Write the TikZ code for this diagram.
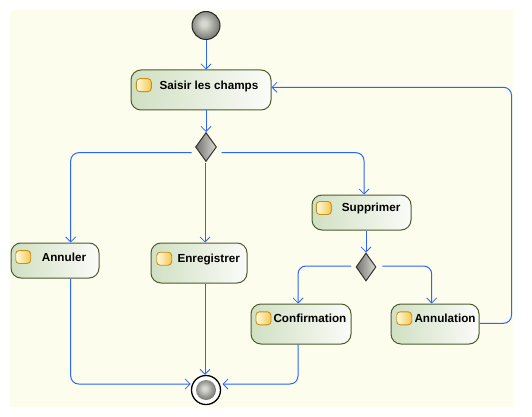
\documentclass[tikz,border=0pt]{standalone}
\usepackage{fontspec}
\setmainfont{Liberation Sans}
\usetikzlibrary{arrows.meta,shapes.geometric,calc}
\definecolor{bgcream}{RGB}{253,253,238}
\definecolor{flowblue}{RGB}{45,100,255}
\definecolor{boxline}{RGB}{75,92,45}
\definecolor{boxleft}{RGB}{208,224,194}
\definecolor{boxright}{RGB}{251,251,249}
\definecolor{iconline}{RGB}{200,145,20}
\definecolor{iconleft}{RGB}{255,250,225}
\definecolor{iconright}{RGB}{245,200,80}
\definecolor{dialeft}{RGB}{115,115,110}
\definecolor{diaright}{RGB}{220,220,214}
\definecolor{ballin}{RGB}{215,215,210}
\definecolor{ballmid}{RGB}{140,140,135}
\definecolor{ballout}{RGB}{75,75,70}
\pgfdeclareradialshading{sphereshade}{\pgfpoint{-4bp}{4bp}}{color(0bp)=(ballin); color(5bp)=(ballin); color(22bp)=(ballmid); color(40bp)=(ballout); color(60bp)=(ballout)}
\tikzset{
  actbox/.style={draw=boxline, line width=1pt, rounded corners=10pt, left color=boxleft, right color=boxright, inner sep=0pt},
  acticon/.style={draw=iconline, line width=0.9pt, rounded corners=3.5pt, left color=iconleft, right color=iconright, minimum width=15pt, minimum height=13pt, inner sep=0pt},
  lbl/.style={anchor=base west, inner sep=0pt, font=\fontsize{11.7}{13}\selectfont\bfseries, text=black},
  flow/.style={draw=flowblue, line width=1pt, rounded corners=8pt, -{Straight Barb[length=5pt,width=10pt,line width=0.8pt]}},
  decision/.style={diamond, draw=black!80, line width=1pt, left color=dialeft, right color=diaright, inner sep=0pt, minimum width=21pt, minimum height=29pt},
  sphere/.style={circle, shading=sphereshade, inner sep=0pt},
}
\begin{document}
\begin{tikzpicture}[x=1pt,y=-1pt]
\useasboundingbox (0,0) rectangle (532,417);
\fill[white] (0,0) rectangle (532,417);
\fill[bgcream] (10,10) rectangle (513,407);

% start and final
\node[sphere, draw=black!85, line width=1pt, minimum size=28pt] (start) at (206,25.5) {};
\node[circle, draw=black, line width=1.3pt, fill=white, minimum size=29pt, inner sep=0pt] (final) at (206,390) {};
\node[sphere, minimum size=20pt] (finalin) at (206,390) {};

% activities
\node[actbox, minimum width=140pt, minimum height=40pt] (saisir) at (201,90) {};
\node[actbox, minimum width=88pt, minimum height=35pt] (annuler) at (55,260.5) {};
\node[actbox, minimum width=96pt, minimum height=40pt] (enregistrer) at (199,263) {};
\node[actbox, minimum width=99pt, minimum height=35pt] (supprimer) at (361.5,212.5) {};
\node[actbox, minimum width=100pt, minimum height=40pt] (confirmation) at (301,324) {};
\node[actbox, minimum width=88pt, minimum height=40pt] (annulation) at (435,324) {};

% icons
\node[acticon] (saisir-i) at (143.8,85.2) {};
\node[acticon] (annuler-i) at (23.2,257) {};
\node[acticon] (enregistrer-i) at (164.2,258.7) {};
\node[acticon] (supprimer-i) at (323.8,208) {};
\node[acticon] (confirmation-i) at (263.5,318.3) {};
\node[acticon] (annulation-i) at (404.2,318.3) {};

% labels
\node[lbl] (saisir-t) at (159.3,89.3) {Saisir les champs};
\node[lbl] (annuler-t) at (41.7,261) {Annuler};
\node[lbl] (enregistrer-t) at (177.3,262.7) {Enregistrer};
\node[lbl] (supprimer-t) at (341.7,211.7) {Supprimer};
\node[lbl] (confirmation-t) at (273.3,322.7) {Confirmation};
\node[lbl] (annulation-t) at (414.3,322.7) {Annulation};

% decisions
\node[decision] (d1) at (206,147) {};
\node[decision, minimum width=20pt, minimum height=28pt] (d2) at (366,267) {};

% connectors
\draw[flow] (start.south) -- (start.south |- saisir.north);
\draw[flow] ([xshift=5pt]saisir.south) -- (d1.north);
\draw[flow] ([shift={(-14.3,5.7)}]d1.center) -| ([xshift=15.7pt]annuler.north);
\draw[flow] ([shift={(-1,16)}]d1.center) -- ([xshift=6pt]enregistrer.north);
\draw[flow] ([shift={(15.7,5.7)}]d1.center) -| ([xshift=2.5pt]supprimer.north);
\draw[flow] (d2.north |- supprimer.south) -- (d2.north);
\draw[flow] ([shift={(-15,-1)}]d2.center) -| ([xshift=-3pt]confirmation.north);
\draw[flow] ([shift={(16.3,-1)}]d2.center) -| ([xshift=-3.3pt]annulation.north);
\draw[flow] ([yshift=0.7pt]annulation.east) -- ++(32,0) |- ([yshift=2.7pt]saisir.east);
\draw[flow] ([xshift=15.7pt]annuler.south) |- ([shift={(-15.3,-6)}]final.center);
\draw[flow] ([xshift=6pt]enregistrer.south) -- ([xshift=-1pt]final.north);
\draw[flow] ([xshift=-3pt]confirmation.south) |- ([shift={(16.5,-6)}]final.center);
\end{tikzpicture}
\end{document}
